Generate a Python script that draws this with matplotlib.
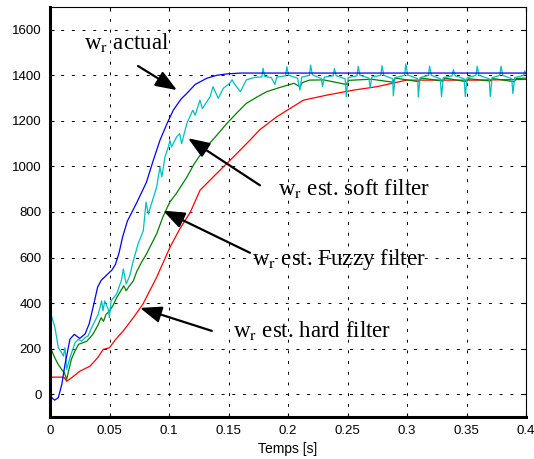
import matplotlib
matplotlib.use("Agg")
import matplotlib.pyplot as plt

# ---- data ----
t_actual = [0, 0.002, 0.004, 0.007, 0.010, 0.0126, 0.0168, 0.0204, 0.025, 0.0294, 0.033, 0.037, 0.040,
            0.043, 0.048, 0.052, 0.055, 0.058, 0.061, 0.065, 0.0728, 0.081, 0.0868, 0.0924, 0.0985,
            0.1036, 0.11, 0.115, 0.122, 0.1317, 0.14, 0.148, 0.16, 0.4]
w_actual = [0, -18, -26, -15, 45, 131, 242, 263, 245, 264, 310, 400, 470,
            500, 525, 545, 570, 620, 690, 760, 840, 930, 1027, 1115, 1190,
            1247, 1295, 1321, 1360, 1387, 1400, 1406, 1410, 1410]

t_soft = [0, 0.0015, 0.0042, 0.007, 0.0098, 0.0112, 0.0126, 0.014, 0.0168, 0.021, 0.0238, 0.0266, 0.0294,
          0.032, 0.035, 0.0406, 0.0434, 0.0445, 0.046, 0.049, 0.0499, 0.0513, 0.056, 0.06, 0.0616, 0.064,
          0.067, 0.07, 0.074, 0.0784, 0.0807, 0.0826, 0.0896, 0.0924, 0.094, 0.0966, 0.0994, 0.1008,
          0.102, 0.1064, 0.109, 0.1106, 0.115, 0.12, 0.122, 0.126, 0.128, 0.1345, 0.137, 0.1414,
          0.1456, 0.151, 0.153, 0.155, 0.16, 0.165, 0.172, 0.178, 0.179, 0.1805, 0.186, 0.189, 0.1905,
          0.198, 0.199, 0.2005, 0.208, 0.210, 0.2115, 0.218, 0.219, 0.2205, 0.228, 0.229, 0.2305,
          0.238, 0.239, 0.2405, 0.248, 0.249, 0.2505, 0.258, 0.259, 0.2605, 0.268, 0.269, 0.2705,
          0.278, 0.279, 0.2805, 0.288, 0.2885, 0.290, 0.298, 0.299, 0.3005, 0.309, 0.3095, 0.311,
          0.318, 0.319, 0.3205, 0.328, 0.329, 0.3305, 0.338, 0.339, 0.3405, 0.348, 0.349, 0.3505,
          0.358, 0.359, 0.3605, 0.369, 0.370, 0.3715, 0.378, 0.379, 0.3805, 0.388, 0.389, 0.3905,
          0.398, 0.399, 0.4]
w_soft = [250, 340, 292, 204, 182, 167, 204, 109, 160, 226, 241, 233, 248,
          256, 292, 352, 410, 366, 410, 373, 336, 410, 440, 500, 550, 484,
          520, 586, 660, 718, 843, 791, 909, 997, 954, 1041, 1085, 1114,
          1085, 1130, 1144, 1100, 1189, 1247, 1225, 1291, 1254, 1306, 1350, 1299,
          1343, 1365, 1380, 1362, 1328, 1380, 1391, 1393, 1431, 1395, 1390, 1360, 1392,
          1398, 1438, 1400, 1388, 1335, 1392, 1400, 1445, 1402, 1386, 1350, 1392,
          1398, 1430, 1398, 1385, 1306, 1390, 1398, 1440, 1400, 1388, 1345, 1392,
          1400, 1442, 1400, 1385, 1310, 1390, 1400, 1450, 1402, 1385, 1305, 1390,
          1400, 1440, 1400, 1385, 1306, 1390, 1398, 1425, 1398, 1385, 1306, 1390,
          1400, 1440, 1400, 1385, 1306, 1390, 1400, 1440, 1400, 1385, 1320, 1390,
          1400, 1420, 1405]

t_fuzzy = [0, 0.001, 0.004, 0.007, 0.0098, 0.012, 0.014, 0.016, 0.018, 0.021, 0.024, 0.027, 0.031,
           0.036, 0.040, 0.043, 0.045, 0.047, 0.050, 0.053, 0.056, 0.062, 0.064, 0.066, 0.070, 0.073,
           0.077, 0.081, 0.0896, 0.095, 0.1008, 0.106, 0.115, 0.121, 0.129, 0.139, 0.1485, 0.157,
           0.165, 0.174, 0.182, 0.192, 0.205, 0.210, 0.212, 0.218, 0.23, 0.249, 0.251, 0.27, 0.288,
           0.29, 0.31, 0.312, 0.33, 0.332, 0.35, 0.352, 0.37, 0.372, 0.39, 0.392, 0.4]
w_fuzzy = [130, 197, 160, 130, 109, 95, 65, 110, 154, 190, 219, 225, 233,
           263, 300, 336, 320, 350, 366, 390, 424, 476, 454, 470, 498, 540,
           580, 615, 704, 780, 845, 880, 953, 1010, 1071, 1130, 1188, 1235,
           1277, 1305, 1328, 1345, 1365, 1350, 1368, 1379, 1380, 1360, 1378, 1383, 1370,
           1388, 1372, 1388, 1375, 1388, 1372, 1385, 1375, 1386, 1372, 1386, 1388]

t_hard = [0, 0.0008, 0.002, 0.006, 0.010, 0.012, 0.014, 0.017, 0.02, 0.025, 0.0336, 0.04, 0.0448,
          0.05, 0.055, 0.0616, 0.07, 0.078, 0.0896, 0.1008, 0.109, 0.118, 0.126, 0.137, 0.154, 0.168,
          0.176, 0.1905, 0.213, 0.2325, 0.255, 0.2745, 0.2997, 0.33, 0.3586, 0.4]
w_hard = [0, 72, 75, 75, 75, 73, 57, 68, 80, 101, 123, 160, 197,
          204, 240, 278, 336, 395, 513, 645, 725, 800, 895, 953, 1041, 1115,
          1160, 1218, 1291, 1313, 1335, 1350, 1379, 1379, 1379, 1382]

x_ticks = [0, 0.05, 0.1, 0.15, 0.2, 0.25, 0.3, 0.35, 0.4]
x_tick_labels = ["0", "0.05", "0.1", "0.15", "0.2", "0.25", "0.3", "0.35", "0.4"]
y_ticks = [0, 200, 400, 600, 800, 1000, 1200, 1400, 1600]

plt.rcParams['mathtext.fontset'] = 'stix'

fig = plt.figure(figsize=(5.34, 4.59), dpi=100)
ax = fig.add_axes([50/534, 1-417/459, 476/534, 410/459])

ax.plot(t_hard, w_hard, color='#ff0000', lw=0.9)
ax.plot(t_fuzzy, w_fuzzy, color='#008000', lw=0.9)
ax.plot(t_soft, w_soft, color='#00bfbf', lw=0.9)
ax.plot(t_actual, w_actual, color='#0000ff', lw=0.9)

ax.set_xlim(0, 0.4)
ax.set_ylim(-100, 1700)
ax.set_xticks(x_ticks)
ax.set_xticklabels(x_tick_labels)
ax.set_yticks(y_ticks)
ax.grid(True, color='black', linestyle=(0, (3, 8)), linewidth=0.7)
ax.tick_params(direction='in', length=3, labelsize=9.5, pad=6, top=True, right=True)
for lab in ax.get_xticklabels() + ax.get_yticklabels():
    lab.set_family('Liberation Sans')
ax.set_xlabel('Temps [s]', fontsize=10, family='Liberation Sans', labelpad=3)

for s in ['left', 'bottom']:
    ax.spines[s].set_linewidth(2.2)
for s in ['top', 'right']:
    ax.spines[s].set_linewidth(0.8)

tfont = dict(family='Liberation Serif', fontsize=16.5, va='center', ha='left')
arrow = dict(arrowstyle='-|>,head_length=1.3,head_width=0.5', color='black', lw=1.6,
             shrinkA=0, shrinkB=0)

ax.text(0.0286, 1542, r'w$_\mathrm{r}$ actual', **tfont)
ax.annotate('', xy=(0.1067, 1335), xytext=(0.074, 1441), arrowprops=arrow)

ax.text(0.1916, 903, r'w$_\mathrm{r}$ est. soft filter', **tfont)
ax.annotate('', xy=(0.116, 1124), xytext=(0.1765, 917), arrowprops=arrow)

ax.text(0.170, 590, r'w$_\mathrm{r}$ est. Fuzzy filter', **tfont)
ax.annotate('', xy=(0.095, 806), xytext=(0.168, 621), arrowprops=arrow)

ax.text(0.154, 278, r'w$_\mathrm{r}$ est. hard filter', **tfont)
ax.annotate('', xy=(0.0756, 379), xytext=(0.136, 278), arrowprops=arrow)

fig.savefig('out.png', dpi=100)
